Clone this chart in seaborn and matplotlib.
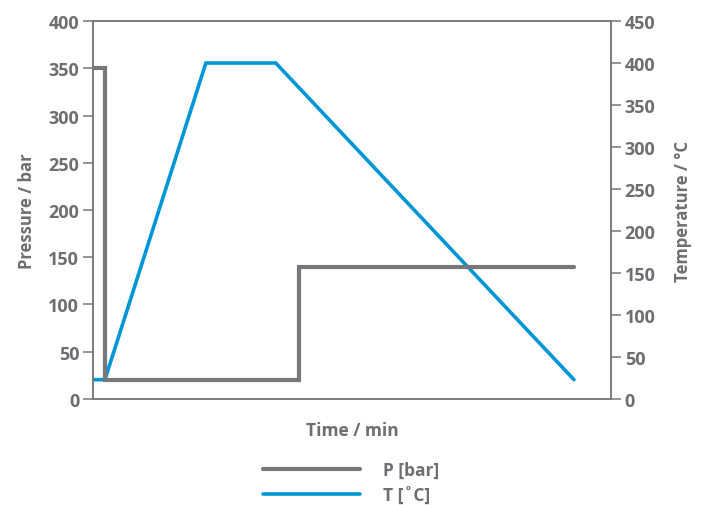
import pandas as pd
import matplotlib.pyplot as plt
import seaborn as sns
from matplotlib.lines import Line2D

sns.set_style("white")
plt.rcParams["font.family"] = ["Open Sans", "DejaVu Sans"]

# ---------------------------------------------------------------
# Data (time in arbitrary units, no tick labels on the time axis)
# ---------------------------------------------------------------
time_p = [0, 2.3, 2.3, 39.8, 39.8, 92.9]
pressure = [350, 350, 20, 20, 140, 140]

time_t = [0, 2.3, 21.8, 35.3, 92.9]
temperature = [23, 23, 400, 400, 23]

p_ticks = [0, 50, 100, 150, 200, 250, 300, 350, 400]
t_ticks = [0, 50, 100, 150, 200, 250, 300, 350, 400, 450]

GREY = "#77787b"
TXT = "#6d6e71"
BLUE = "#0096d6"

df_p = pd.DataFrame({"Time": time_p, "Pressure": pressure})
df_t = pd.DataFrame({"Time": time_t, "Temperature": temperature})

fig = plt.figure(figsize=(7.02, 5.06), dpi=100)
ax = fig.add_axes([0.1325, 0.2095, 0.7375, 0.747])
ax2 = ax.twinx()

sns.lineplot(data=df_p, x="Time", y="Pressure", ax=ax, estimator=None, sort=False,
             color=GREY, linewidth=3.0, solid_joinstyle="miter")
sns.lineplot(data=df_t, x="Time", y="Temperature", ax=ax2, estimator=None, sort=False,
             color=BLUE, linewidth=2.6, solid_joinstyle="miter")

# the pressure curve should sit over the temperature where they meet at the start
ax.set_zorder(ax2.get_zorder() + 1)
ax.patch.set_visible(False)

ax.set_xlim(0, 100)
ax.set_ylim(0, 400)
ax2.set_ylim(0, 450)
ax.set_yticks(p_ticks)
ax2.set_yticks(t_ticks)
ax.set_xticks([])

for a in (ax, ax2):
    for s in a.spines.values():
        s.set_color(GREY)
        s.set_linewidth(1.1)
    a.tick_params(axis="y", length=7, width=1.1, color=GREY, labelcolor=TXT,
                  labelsize=13, pad=3)
    for lab in a.get_yticklabels():
        lab.set_fontweight("bold")

ax.set_xlabel("Time / min", color=TXT, fontsize=12.5, fontweight="bold", labelpad=16)
ax.set_ylabel("Pressure / bar", color=TXT, fontsize=12, fontweight="bold", labelpad=9)
ax2.set_ylabel("Temperature / °C", color=TXT, fontsize=12, fontweight="bold", labelpad=13)

handles = [Line2D([], [], color=GREY, linewidth=3.0),
           Line2D([], [], color=BLUE, linewidth=2.6)]
leg = fig.legend(handles, ["P [bar]", "T [˚C]"], loc="center",
                 bbox_to_anchor=(0.5, 0.045), frameon=False, handlelength=5.6,
                 handletextpad=1.3, labelspacing=0.4,
                 prop={"size": 12.5, "weight": "bold"})
for t in leg.get_texts():
    t.set_color(TXT)

plt.savefig("out.png", dpi=100)
plt.close()
